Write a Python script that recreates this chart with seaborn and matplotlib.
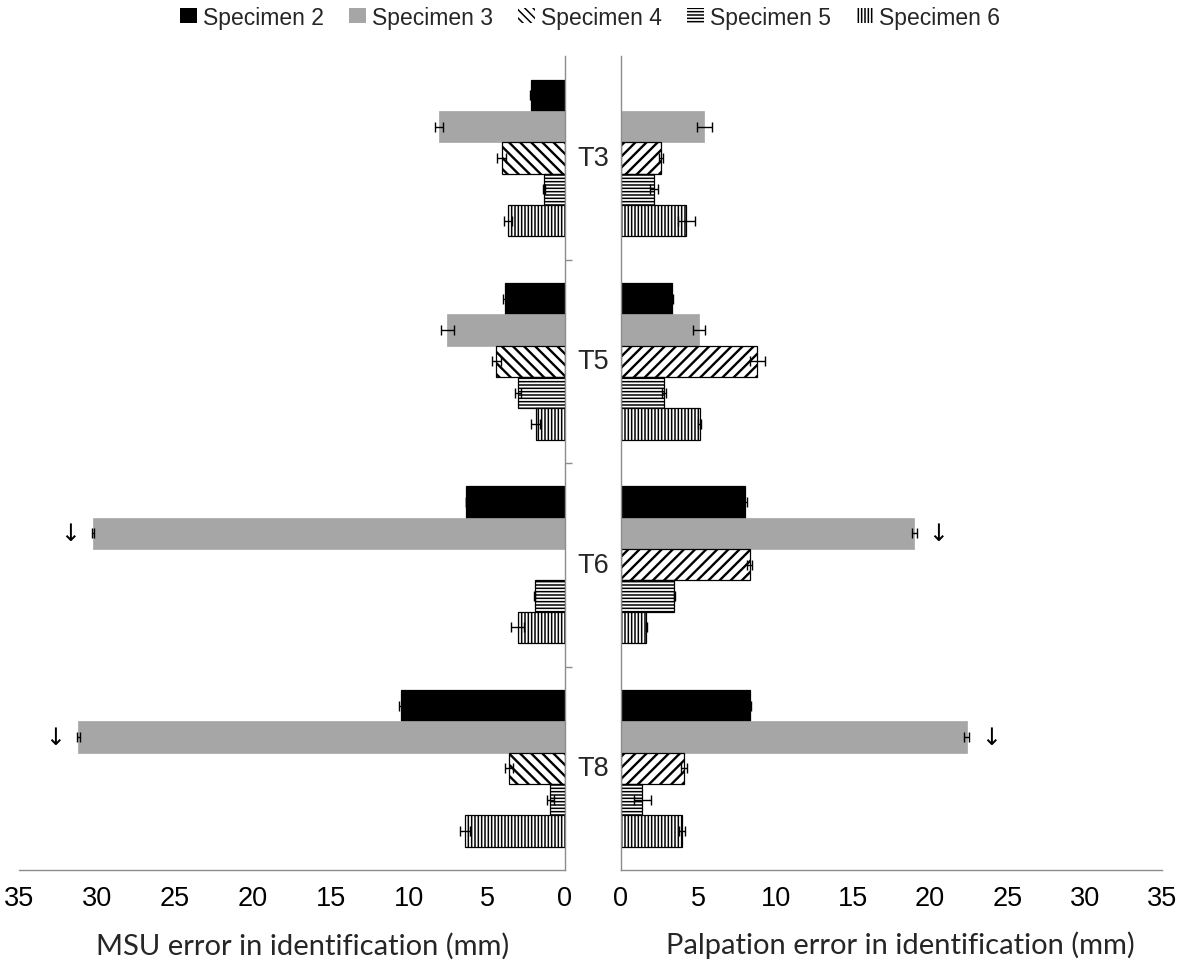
"""Mirrored bar chart: MSU vs palpation error by vertebra and specimen."""

import numpy as np
import pandas as pd
import matplotlib
matplotlib.use("Agg")
import matplotlib.pyplot as plt
import matplotlib.transforms as mtransforms
from matplotlib.patches import Patch
import seaborn as sns

nan = np.nan

vertebrae = ["T3", "T5", "T6", "T8"]
specimens = ["Specimen 2", "Specimen 3", "Specimen 4", "Specimen 5", "Specimen 6"]

# MSU error (mm), one list per specimen, in vertebra order
msu_s2 = [2.20, 3.86, 6.36, 10.50]
msu_s3 = [8.07, 7.55, 30.27, 31.20]
msu_s4 = [4.06, 4.41, nan, 3.58]
msu_s5 = [1.35, 3.03, 1.95, 0.93]
msu_s6 = [3.67, 1.89, 3.03, 6.40]

msu_err_s2 = [0.05, 0.10, 0.00, 0.15]
msu_err_s3 = [0.26, 0.43, 0.05, 0.10]
msu_err_s4 = [0.30, 0.30, nan, 0.25]
msu_err_s5 = [0.05, 0.20, 0.05, 0.20]
msu_err_s6 = [0.25, 0.27, 0.43, 0.30]

# Palpation error (mm)
palp_s2 = [nan, 3.30, 8.03, 8.36]
palp_s3 = [5.38, 5.05, 18.97, 22.37]
palp_s4 = [2.61, 8.83, 8.33, 4.08]
palp_s5 = [2.12, 2.78, 3.45, 1.38]
palp_s6 = [4.23, 5.09, 1.64, 3.95]

palp_err_s2 = [nan, 0.05, 0.10, 0.05]
palp_err_s3 = [0.49, 0.38, 0.15, 0.15]
palp_err_s4 = [0.13, 0.46, 0.15, 0.20]
palp_err_s5 = [0.27, 0.10, 0.05, 0.56]
palp_err_s6 = [0.56, 0.10, 0.05, 0.20]

# bars that get a "↓" marker next to them
flagged = [("Specimen 3", "T6"), ("Specimen 3", "T8")]

tick_vals = [0, 5, 10, 15, 20, 25, 30, 35]

GRAY = "#a6a6a6"
SPINE = "#8c8c8c"
HATCH_H = "-----"
HATCH_V = "|||||"
HATCH_DIAG_L = "\\\\\\"
HATCH_DIAG_R = "///"


def build_frame():
    msu = [msu_s2, msu_s3, msu_s4, msu_s5, msu_s6]
    msu_err = [msu_err_s2, msu_err_s3, msu_err_s4, msu_err_s5, msu_err_s6]
    palp = [palp_s2, palp_s3, palp_s4, palp_s5, palp_s6]
    palp_err = [palp_err_s2, palp_err_s3, palp_err_s4, palp_err_s5, palp_err_s6]
    rows = []
    for k, spec in enumerate(specimens):
        for i, vert in enumerate(vertebrae):
            rows.append({"vertebra": vert, "specimen": spec,
                         "msu": msu[k][i], "msu_err": msu_err[k][i],
                         "palp": palp[k][i], "palp_err": palp_err[k][i]})
    return pd.DataFrame(rows)


def style_hatch(patch, hatch, lw):
    patch.set_hatch(hatch)
    if hasattr(patch, "set_hatch_linewidth"):
        patch.set_hatch_linewidth(lw)


def draw_panel(ax, df, col, diag_hatch):
    palette = {"Specimen 2": "black", "Specimen 3": GRAY,
               "Specimen 4": "white", "Specimen 5": "white", "Specimen 6": "white"}
    hatches = {"Specimen 4": (diag_hatch, 1.7), "Specimen 5": (HATCH_H, 1.1),
               "Specimen 6": (HATCH_V, 1.1)}
    sub = df.dropna(subset=[col])
    sns.barplot(data=sub, y="vertebra", x=col, hue="specimen", order=vertebrae,
                hue_order=specimens, palette=palette, saturation=1, errorbar=None,
                orient="h", width=0.77, legend=False, ax=ax)

    lookup = df.set_index(["specimen", "vertebra"])
    for spec, cont in zip(specimens, ax.containers):
        for bar in cont:
            yc = bar.get_y() + bar.get_height() / 2
            vert = vertebrae[int(round(yc))]
            val = bar.get_width()
            err = lookup.loc[(spec, vert), col + "_err"]
            if spec == "Specimen 3":
                bar.set_edgecolor(GRAY)
                bar.set_linewidth(0.5)
            else:
                bar.set_edgecolor("black")
                bar.set_linewidth(0.9)
                if spec in hatches:
                    style_hatch(bar, *hatches[spec])
            ax.errorbar(val, yc, xerr=err, fmt="none", ecolor="black",
                        elinewidth=1, capsize=3.5, capthick=1)
            if (spec, vert) in flagged:
                ax.text(val + err + 1.42, yc, "\u2193", ha="center", va="center",
                        fontsize=17, color="black", family=["DejaVu Sans"])

    ax.set_ylim(3.5, -0.5)
    ax.set_yticks([0.5, 1.5, 2.5])
    ax.set_yticklabels([])
    ax.set_ylabel("")
    ax.set_xticks(tick_vals)
    ax.set_xticklabels([str(v) for v in tick_vals], fontsize=19.5)
    ax.tick_params(axis="both", direction="out", length=5, width=1,
                   color=SPINE, labelcolor="black")
    ax.tick_params(axis="x", pad=6)
    for s in ax.spines.values():
        s.set_color(SPINE)
        s.set_linewidth(1)


def main():
    sns.set_style("white")
    plt.rcParams["font.family"] = ["Liberation Sans", "DejaVu Sans"]
    plt.rcParams["hatch.linewidth"] = 1.1

    df = build_frame()

    fig = plt.figure(figsize=(11.93, 9.70), dpi=100)
    ax_l = fig.add_axes([19 / 1193, 0.1021, 546 / 1193, 0.839])
    ax_r = fig.add_axes([621 / 1193, 0.1021, 541 / 1193, 0.839])

    label_font = dict(fontsize=21, family=["Lato", "DejaVu Sans"])

    # left panel: MSU, mirrored
    draw_panel(ax_l, df, "msu", HATCH_DIAG_L)
    ax_l.set_xlim(35, 0)
    ax_l.yaxis.tick_right()
    ax_l.spines["top"].set_visible(False)
    ax_l.spines["left"].set_visible(False)
    ax_l.set_xlabel("MSU error in identification (mm)", **label_font)
    ax_l.xaxis.label.set_va("baseline")
    ax_l.xaxis.set_label_coords(0.52, -0.1025)

    # right panel: palpation
    draw_panel(ax_r, df, "palp", HATCH_DIAG_R)
    ax_r.set_xlim(0, 35)
    ax_r.spines["top"].set_visible(False)
    ax_r.spines["right"].set_visible(False)
    ax_r.set_xlabel("Palpation error in identification (mm)", **label_font)
    ax_r.xaxis.label.set_va("baseline")
    ax_r.xaxis.set_label_coords(0.516, -0.1025)

    # vertebra labels in the gap between the panels
    trans = mtransforms.blended_transform_factory(fig.transFigure, ax_r.transData)
    for i, vert in enumerate(vertebrae):
        ax_r.text(593 / 1193, i, vert, transform=trans, ha="center", va="center",
                  fontsize=19.5, clip_on=False)

    handles = [
        Patch(facecolor="black", edgecolor="black", linewidth=0),
        Patch(facecolor=GRAY, edgecolor=GRAY, linewidth=0),
        Patch(facecolor="white", edgecolor="black", hatch="\\\\\\\\", linewidth=0),
        Patch(facecolor="white", edgecolor="black", hatch=HATCH_H, linewidth=0),
        Patch(facecolor="white", edgecolor="black", hatch=HATCH_V, linewidth=0),
    ]
    fig.legend(handles, specimens, loc="center", bbox_to_anchor=(590 / 1193, 1 - 18 / 970),
               ncol=5, frameon=False, fontsize=16.5, handlelength=0.75, handleheight=0.65,
               handletextpad=0.25, columnspacing=1.1, borderaxespad=0)

    fig.savefig("out.png", dpi=100)
    plt.close(fig)


if __name__ == "__main__":
    main()
